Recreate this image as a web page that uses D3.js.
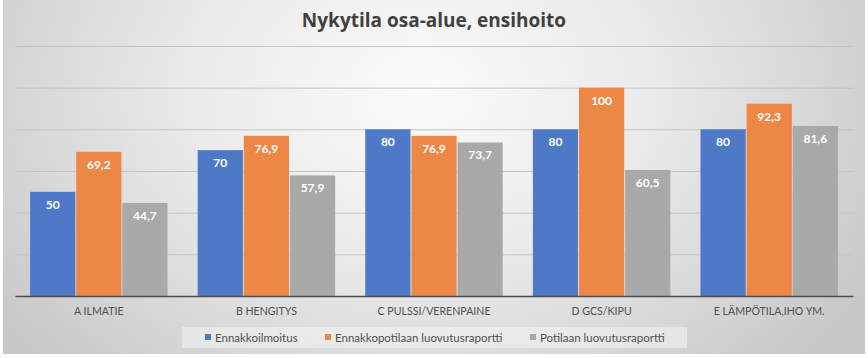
<!DOCTYPE html>
<html>
<head>
<meta charset="utf-8">
<script src="https://cdn.jsdelivr.net/npm/d3@7"></script>
<style>
  body { margin: 0; background: #fff; }
  text { font-family: Lato, "Open Sans", sans-serif; }
</style>
</head>
<body>
<script>
var w = 868;
var h = 358;

var categories = ["A ILMATIE", "B HENGITYS", "C PULSSI/VERENPAINE", "D GCS/KIPU", "E LÄMPÖTILA,IHO YM."];
var seriesNames = ["Ennakkoilmoitus", "Ennakkopotilaan luovutusraportti", "Potilaan luovutusraportti"];
var ennakkoilmoitus = [50, 70, 80, 80, 80];
var ennakkopotilaan = [69.2, 76.9, 76.9, 100, 92.3];
var potilaan = [44.7, 57.9, 73.7, 60.5, 81.6];
var yTicks = [0, 20, 40, 60, 80, 100, 120];
var colors = ["#4d79c7", "#ec8746", "#a9a9a9"];

var values = [ennakkoilmoitus, ennakkopotilaan, potilaan];
var rows = categories.map(function(c, i) {
  return { cat: c, vals: values.map(function(s, j) { return { name: seriesNames[j], v: s[i], k: j }; }) };
});

var svg = d3.select("body").append("svg")
  .attr("width", w)
  .attr("height", h);

var defs = svg.append("defs");
var bg = defs.append("radialGradient")
  .attr("id", "bg")
  .attr("gradientUnits", "userSpaceOnUse")
  .attr("cx", 420).attr("cy", 90).attr("r", 520)
  .attr("gradientTransform", "translate(420,90) scale(1,0.75) translate(-420,-90)");
bg.append("stop").attr("offset", "0").attr("stop-color", "#fbfbfb");
bg.append("stop").attr("offset", "0.45").attr("stop-color", "#eaeaea");
bg.append("stop").attr("offset", "1").attr("stop-color", "#c8c8c8");

svg.append("rect")
  .attr("x", 3).attr("y", 0)
  .attr("width", 862).attr("height", 354)
  .attr("fill", "url(#bg)");

var x0 = d3.scaleBand()
  .domain(categories)
  .range([15, 853])
  .paddingInner(0.18)
  .paddingOuter(0.09);

var x1 = d3.scaleBand()
  .domain(d3.range(3))
  .range([0, x0.bandwidth()])
  .paddingInner(0.02);

var yScale = d3.scaleLinear()
  .domain([0, 120])
  .range([296, 46]);

// gridlines
svg.append("g")
  .selectAll("line")
  .data(yTicks.slice(1))
  .enter()
  .append("line")
  .attr("x1", 15).attr("x2", 853)
  .attr("y1", function(d) { return yScale(d) + 0.5; })
  .attr("y2", function(d) { return yScale(d) + 0.5; })
  .attr("stroke", "#c4c4c4")
  .attr("stroke-width", 1);

// title
svg.append("text")
  .attr("x", 434)
  .attr("y", 26.5)
  .attr("text-anchor", "middle")
  .style("font-family", "'Open Sans', sans-serif")
  .attr("font-size", "19px")
  .attr("font-weight", "bold")
  .attr("fill", "#404040")
  .text("Nykytila osa-alue, ensihoito");

var groups = svg.selectAll("g.grp")
  .data(rows)
  .enter()
  .append("g")
  .attr("class", "grp")
  .attr("transform", function(d) { return "translate(" + x0(d.cat) + ",0)"; });

groups.selectAll("rect")
  .data(function(d) { return d.vals; })
  .enter()
  .append("rect")
  .attr("x", function(d) { return x1(d.k); })
  .attr("y", function(d) { return yScale(d.v); })
  .attr("width", x1.bandwidth())
  .attr("height", function(d) { return yScale(0) - yScale(d.v); })
  .attr("fill", function(d) { return colors[d.k]; });

groups.selectAll("text")
  .data(function(d) { return d.vals; })
  .enter()
  .append("text")
  .attr("x", function(d) { return x1(d.k) + x1.bandwidth() / 2; })
  .attr("y", function(d) { return yScale(d.v) + 17; })
  .attr("text-anchor", "middle")
  .attr("font-size", "12px")
  .attr("font-weight", "bold")
  .attr("fill", "#ffffff")
  .text(function(d) { return String(d.v).replace(".", ","); });

// x axis
var xAxis = d3.axisBottom(x0).tickSize(0).tickPadding(11);
var gx = svg.append("g")
  .attr("transform", "translate(0,296)")
  .call(xAxis);
gx.select(".domain").attr("stroke", "#4d4d4d").attr("stroke-width", 1.3);
gx.selectAll("text")
  .attr("font-size", "10.6px")
  .attr("fill", "#505050");

// legend
svg.append("rect")
  .attr("x", 182).attr("y", 327)
  .attr("width", 505).attr("height", 21)
  .attr("fill", "#f4f4f4")
  .attr("opacity", 0.55);

var legendX = [205, 325, 530];
var leg = svg.selectAll("g.leg")
  .data(seriesNames)
  .enter()
  .append("g")
  .attr("class", "leg")
  .attr("transform", function(d, i) { return "translate(" + legendX[i] + ",333)"; });

leg.append("rect")
  .attr("width", 6).attr("height", 6)
  .attr("y", 1)
  .attr("fill", function(d, i) { return colors[i]; });

leg.append("text")
  .attr("x", 10)
  .attr("y", 8.5)
  .attr("font-size", "11.5px")
  .attr("fill", "#505050")
  .text(function(d) { return d; });
</script>
</body>
</html>
